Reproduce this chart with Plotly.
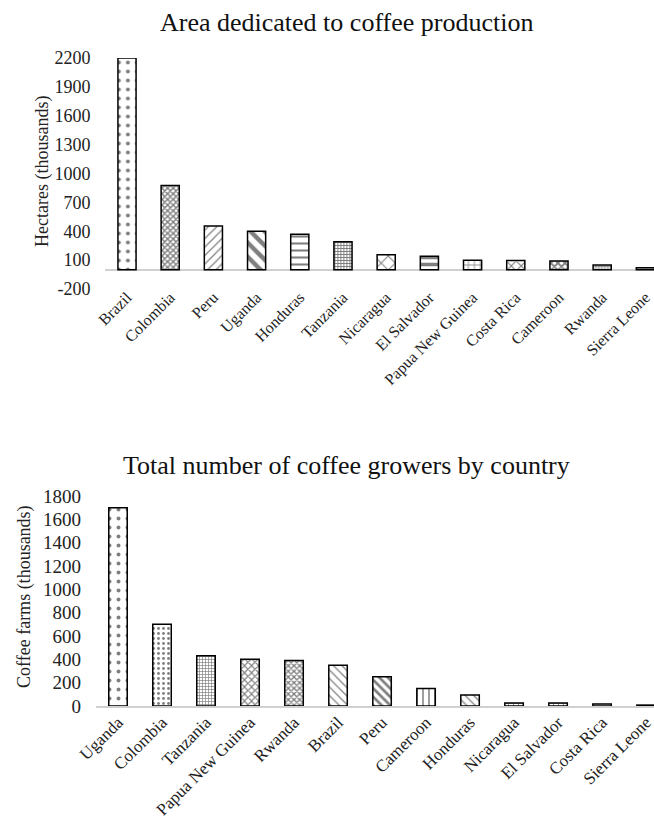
import plotly.graph_objects as go

# ---- data ----
area_countries = ["Brazil", "Colombia", "Peru", "Uganda", "Honduras", "Tanzania", "Nicaragua",
                  "El Salvador", "Papua New Guinea", "Costa Rica", "Cameroon", "Rwanda", "Sierra Leone"]
area_values = [2200, 875, 455, 400, 370, 290, 155, 140, 100, 95, 90, 50, 20]
area_ticks = [-200, 100, 400, 700, 1000, 1300, 1600, 1900, 2200]
area_ticktext = ["-200", "100", "400", "700", "1000", "1300", "1600", "1900", "2200"]

grow_countries = ["Uganda", "Colombia", "Tanzania", "Papua New Guinea", "Rwanda", "Brazil", "Peru",
                  "Cameroon", "Honduras", "Nicaragua", "El Salvador", "Costa Rica", "Sierra Leone"]
grow_values = [1700, 700, 430, 400, 390, 350, 250, 150, 95, 25, 25, 18, 8]
grow_ticks = [0, 200, 400, 600, 800, 1000, 1200, 1400, 1600, 1800]

# ---- styles ----
FONT = "Liberation Serif"
W, H = 654, 818

area_shapes = [".", "x", "/", "\\", "-", "+", "x", "-", "+", "x", "x", ".", "."]
area_sizes = [9, 4, 6, 10, 7, 3, 10, 7, 6, 7, 5, 3, 3]
area_sol = [0.15, 0.6, 0.2, 0.45, 0.3, 0.55, 0.2, 0.5, 0.25, 0.3, 0.6, 0.5, 0.5]

grow_shapes = [".", ".", "+", "x", "x", "\\", "\\", "|", "\\", "+", "+", "-", "."]
grow_sizes = [9, 5, 3, 5, 4, 6, 6, 6, 6, 5, 5, 5, 3]
grow_sol = [0.15, 0.25, 0.4, 0.4, 0.55, 0.2, 0.45, 0.25, 0.2, 0.3, 0.3, 0.3, 0.6]

fig = go.Figure()
fig.add_trace(go.Bar(
    x=area_countries, y=area_values, width=0.42, xaxis="x", yaxis="y",
    marker=dict(color="white", line=dict(color="black", width=1.5),
                pattern=dict(shape=area_shapes, size=area_sizes, solidity=area_sol,
                             fgcolor="black", bgcolor="white", fillmode="overlay")),
    showlegend=False))
fig.add_trace(go.Bar(
    x=grow_countries, y=grow_values, width=0.42, xaxis="x2", yaxis="y2",
    marker=dict(color="white", line=dict(color="black", width=1.5),
                pattern=dict(shape=grow_shapes, size=grow_sizes, solidity=grow_sol,
                             fgcolor="black", bgcolor="white", fillmode="overlay")),
    showlegend=False))

fig.update_layout(
    width=W, height=H, margin=dict(l=0, r=0, t=0, b=0),
    paper_bgcolor="white", plot_bgcolor="white",
    font=dict(family=FONT, color="#222"),
    xaxis=dict(domain=[105.4 / W, 1], range=[-0.5, 12.2], tickangle=-45,
               tickfont=dict(family=FONT, size=16, color="#222"),
               showline=False, showgrid=False, ticks="", anchor="y", automargin=False,
               ticklabelstandoff=-5),
    yaxis=dict(domain=[1 - 289 / H, 1 - 58 / H], range=[-200, 2200], tickvals=area_ticks,
               ticktext=area_ticktext,
               tickfont=dict(family=FONT, size=18, color="#222"), showgrid=False,
               zeroline=True, zerolinecolor="#d0d0d0", zerolinewidth=1.5, showline=False,
               ticks="", ticklabelstandoff=14, anchor="x", automargin=False),
    xaxis2=dict(domain=[96 / W, 1], range=[-0.5, 12.18], tickangle=-45,
                tickfont=dict(family=FONT, size=17, color="#222"),
                showline=True, linecolor="#d0d0d0", linewidth=1.5, showgrid=False, ticks="",
                anchor="y2", automargin=False, ticklabelstandoff=-2),
    yaxis2=dict(domain=[1 - 706 / H, 1 - 496 / H], range=[0, 1800], tickvals=grow_ticks,
                tickfont=dict(family=FONT, size=19, color="#222"), showgrid=False,
                zeroline=False, showline=False, ticks="", ticklabelstandoff=14, anchor="x2",
                automargin=False),
    annotations=[
        dict(text="Area dedicated to coffee production", x=346 / W, y=1 - 23 / H,
             xref="paper", yref="paper", showarrow=False, xanchor="center", yanchor="middle",
             font=dict(family=FONT, size=26, color="#111")),
        dict(text="Total number of coffee growers by country", x=346 / W, y=1 - 465 / H,
             xref="paper", yref="paper", showarrow=False, xanchor="center", yanchor="middle",
             font=dict(family=FONT, size=26, color="#111")),
        dict(text="Hectares (thousands)", x=43 / W, y=1 - 172 / H, textangle=-90,
             xref="paper", yref="paper", showarrow=False, xanchor="center", yanchor="middle",
             font=dict(family=FONT, size=18, color="#222")),
        dict(text="Coffee farms (thousands)", x=24 / W, y=1 - 597 / H, textangle=-90,
             xref="paper", yref="paper", showarrow=False, xanchor="center", yanchor="middle",
             font=dict(family=FONT, size=18, color="#222")),
    ],
)

fig.write_html("out.html")
